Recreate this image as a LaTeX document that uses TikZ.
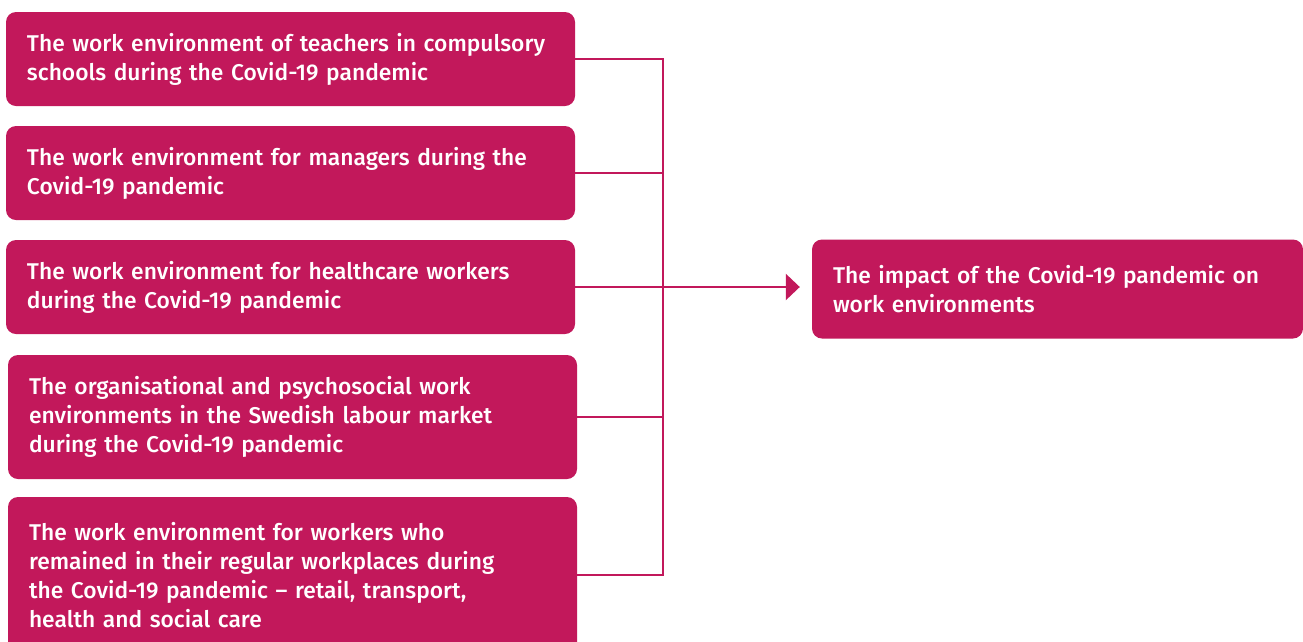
\documentclass[tikz,border=0pt]{standalone}
\usepackage{fontspec}
\setmainfont{Fira Sans Medium}
\usetikzlibrary{arrows.meta,positioning}
\definecolor{rasp}{HTML}{C2185B}

\begin{document}
\begin{tikzpicture}[x=1pt,y=-1pt,
        box/.style={fill=rasp,text=white,rounded corners=10pt,align=left,
          text width=527pt,inner xsep=21pt,inner ysep=0pt,
          font=\fontsize{22.8}{29}\selectfont},
        link/.style={draw=rasp,line width=2.4pt}]
        \clip (0,0) rectangle (1303,641);
        \node[box,minimum height=94pt]  (T1) at (290.5,59)  {The work environment of teachers in compulsory\\schools during the Covid-19 pandemic};
        \node[box,minimum height=94pt]  (T2) at (290.5,173) {The work environment for managers during the\\Covid-19 pandemic};
        \node[box,minimum height=94pt]  (T3) at (290.5,287) {The work environment for healthcare workers\\during the Covid-19 pandemic};
        \node[box,minimum height=124pt] (T4) at (292.5,417) {The organisational and psychosocial work\\environments in the Swedish labour market\\during the Covid-19 pandemic};
        \node[box,minimum height=156pt] (T5) at (292.5,575) {The work environment for workers who\\remained in their regular workplaces during\\the Covid-19 pandemic -- retail, transport,\\health and social care};
        \node[box,text width=449pt,minimum height=99pt] (R) at (1057.5,289) {The impact of the Covid-19 pandemic on\\work environments};
        \coordinate (H) at (663,287);
        \draw[link] (T1.east) -| (H);
        \draw[link] (T5.east) -| (H);
        \draw[link] (T2.east) -- (T2.east -| H);
        \draw[link] (T4.east) -- (T4.east -| H);
        \draw[link,-{Triangle[length=14pt,width=26pt]},shorten >=12pt] (T3.east) -- (T3.east -| R.west);
\end{tikzpicture}
\end{document}
